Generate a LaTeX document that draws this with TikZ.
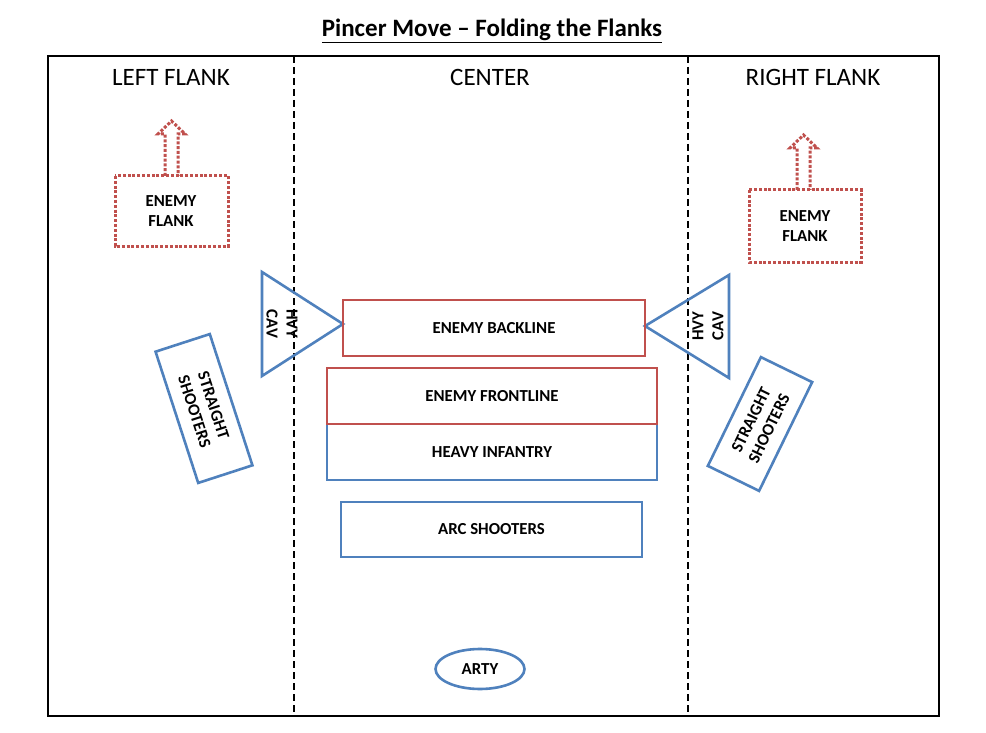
\documentclass[tikz,border=0pt]{standalone}
\usepackage{fontspec}
\setmainfont{Carlito}
\usetikzlibrary{shapes.geometric}
\definecolor{myred}{RGB}{192,80,77}
\definecolor{myblue}{RGB}{79,129,189}
\begin{document}
\begin{tikzpicture}[x=1pt,y=-1pt,
  lbl/.style={font=\bfseries\fontsize{16.8}{20}\selectfont, align=center, inner sep=0pt},
  hdr/.style={font=\fontsize{25}{28}\selectfont, inner sep=0pt},
  bluebox/.style={draw=myblue, line width=2.6pt, lbl},
  redbox/.style={draw=myred, line width=2.6pt, lbl},
  dotbox/.style={draw=myred, line width=3pt, dash pattern=on 3pt off 1.8pt},
  divider/.style={line width=1.6pt, dash pattern=on 7pt off 4pt},
  tri/.style={draw=myblue, line width=2.6pt, line join=miter}]
\useasboundingbox (0,0) rectangle (986,733);
\fill[white] (0,0) rectangle (986,733);

% title
\node[font=\bfseries\fontsize{25}{28}\selectfont, inner sep=0pt] (title) at (492,31) {\underline{Pincer Move -- Folding the Flanks}};

% frame
\draw[line width=2.4pt] (48,56) rectangle (939,716);
\coordinate (d1t) at (294,56); \coordinate (d1b) at (294,716);
\coordinate (d2t) at (688,56); \coordinate (d2b) at (688,716);
\draw[divider] (d1t) -- (d1b);
\draw[divider] (d2t) -- (d2b);

% headers
\node[hdr] (hl) at (171,77) {LEFT FLANK};
\node[hdr] (hc) at (490,77) {CENTER};
\node[hdr] (hr) at (813,77) {RIGHT FLANK};

% enemy flanks
\draw[dotbox] (115,176) rectangle (228,246);
\node[lbl] (efl) at (171,211) {ENEMY\\FLANK};
\draw[dotbox] (165,176) -- (165,134) -- (158,134) -- (171.5,121) -- (185,134) -- (178,134) -- (178,176);
\draw[dotbox] (749,190) rectangle (861,262);
\node[lbl] (efr) at (805,226) {ENEMY\\FLANK};
\draw[dotbox] (797,190) -- (797,148) -- (790,148) -- (803.5,135) -- (817,148) -- (810,148) -- (810,190);

% heavy cavalry triangles
\draw[tri] (262,272) -- (343,324) -- (262,376) -- cycle;
\node[lbl, rotate=-90] (cavl) at (282,324) {HVY\\CAV};
\draw[tri] (729,275) -- (645,326) -- (729,378) -- cycle;
\node[lbl, rotate=90] (cavr) at (708,326) {HVY\\CAV};

% center blocks
\node[redbox, minimum width=302, minimum height=56] (back) at (494,328) {ENEMY BACKLINE};
\node[bluebox, minimum width=330, minimum height=56] (hinf) at (492,452) {HEAVY INFANTRY};
\node[redbox, minimum width=330, minimum height=56] (front) at (492,396) {ENEMY FRONTLINE};
\node[bluebox, minimum width=301, minimum height=55] (arc) at (491.5,529.5) {ARC SHOOTERS};
\node[bluebox, ellipse, minimum width=89, minimum height=40] (arty) at (480,669) {ARTY};

% straight shooters
\node[bluebox, minimum width=57, minimum height=138, rotate=18] (ssl) at (204,408.5) {};
\node[lbl, rotate=-72] (ssltxt) at (204,408.5) {STRAIGHT\\SHOOTERS};
\node[bluebox, minimum width=57, minimum height=121, rotate=-26] (ssr) at (760,424) {};
\node[lbl, rotate=64] (ssrtxt) at (760,424) {STRAIGHT\\SHOOTERS};
\end{tikzpicture}
\end{document}
